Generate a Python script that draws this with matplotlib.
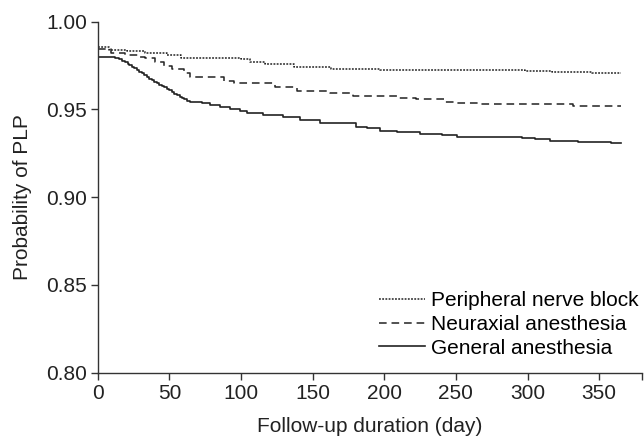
import matplotlib
matplotlib.use('Agg')
import matplotlib.pyplot as plt

# Kaplan-Meier style curves (day, probability)
PNB_DAYS = [0, 8, 20, 33, 48, 58, 100, 106, 117, 137, 163, 197, 298, 317, 345, 365]
PNB_VALS = [0.9858, 0.9839, 0.9830, 0.9820, 0.9810, 0.9795, 0.9787, 0.9772, 0.9757,
            0.9744, 0.9732, 0.9725, 0.9719, 0.9712, 0.9706, 0.9706]

NEU_DAYS = [0, 9, 19, 28, 33, 40, 46, 52, 60, 64, 88, 95, 124, 139, 162, 178, 210,
            222, 242, 251, 266, 332, 365]
NEU_VALS = [0.9843, 0.9823, 0.9810, 0.9800, 0.9791, 0.9772, 0.9749, 0.9730, 0.9706,
            0.9687, 0.9664, 0.9649, 0.9630, 0.9607, 0.9596, 0.9577, 0.9563, 0.9558,
            0.9544, 0.9538, 0.9531, 0.9520, 0.9520]

GEN_DAYS = [0, 7, 12, 15, 17, 19, 21, 22, 24, 25, 27, 29, 31, 32, 34, 36, 38, 39,
            41, 43, 45, 46, 48, 50, 52, 53, 55, 57, 59, 60, 62, 64, 69, 73, 78, 85,
            92, 99, 104, 115, 129, 141, 155, 180, 188, 197, 209, 225, 240, 251, 296,
            305, 316, 335, 358, 365]
GEN_VALS = [0.9800, 0.9797, 0.9793, 0.9786, 0.9778, 0.9770, 0.9760, 0.9750, 0.9743,
            0.9735, 0.9725, 0.9715, 0.9705, 0.9695, 0.9685, 0.9675, 0.9666, 0.9657,
            0.9648, 0.9639, 0.9632, 0.9625, 0.9618, 0.9611, 0.9600, 0.9590, 0.9582,
            0.9573, 0.9565, 0.9557, 0.9550, 0.9544, 0.9540, 0.9535, 0.9525, 0.9512,
            0.9501, 0.9491, 0.9482, 0.9468, 0.9455, 0.9440, 0.9425, 0.9398, 0.9392,
            0.9379, 0.9373, 0.9360, 0.9353, 0.9345, 0.9335, 0.9330, 0.9320, 0.9313,
            0.9307, 0.9307]

X_TICKS = [0, 50, 100, 150, 200, 250, 300, 350]
Y_TICKS = [0.80, 0.85, 0.90, 0.95, 1.00]

plt.rcParams['font.family'] = ['Liberation Sans', 'DejaVu Sans']
plt.rcParams['font.size'] = 15

fig = plt.figure(figsize=(6.44, 4.41), dpi=100)
ax = fig.add_axes([0.152, 0.155, 0.845, 0.796])

ax.plot(PNB_DAYS, PNB_VALS, drawstyle='steps-post', color='#222222', lw=1.1,
        linestyle=(0, (1.2, 0.9)), label='Peripheral nerve block')
ax.plot(NEU_DAYS, NEU_VALS, drawstyle='steps-post', color='#222222', lw=1.1,
        linestyle=(0, (5, 3.2)), label='Neuraxial anesthesia')
ax.plot(GEN_DAYS, GEN_VALS, drawstyle='steps-post', color='#222222', lw=1.2,
        linestyle='-', label='General anesthesia')

ax.set_xlim(0, 380)
ax.set_ylim(0.80, 1.00)
ax.set_xticks(X_TICKS + [380])
ax.set_xticklabels([str(t) for t in X_TICKS] + [''])
ax.set_yticks(Y_TICKS)
ax.set_yticklabels([f'{t:.2f}' for t in Y_TICKS])
ax.tick_params(direction='out', length=5, width=1, pad=3,
               color='#333333', labelcolor='#222222')

for s in ['top', 'right']:
    ax.spines[s].set_visible(False)
for s in ['left', 'bottom']:
    ax.spines[s].set_color('#333333')
    ax.spines[s].set_linewidth(1)

ax.set_xlabel('Follow-up duration (day)', color='#222222', labelpad=10)
ax.set_ylabel('Probability of PLP', color='#222222', labelpad=10)

ax.legend(loc='lower right', frameon=False, handlelength=2.25, handletextpad=0.25,
          labelspacing=0.22, borderpad=0, borderaxespad=0,
          bbox_to_anchor=(0.993, 0.043))

plt.savefig('out.png', dpi=100)
